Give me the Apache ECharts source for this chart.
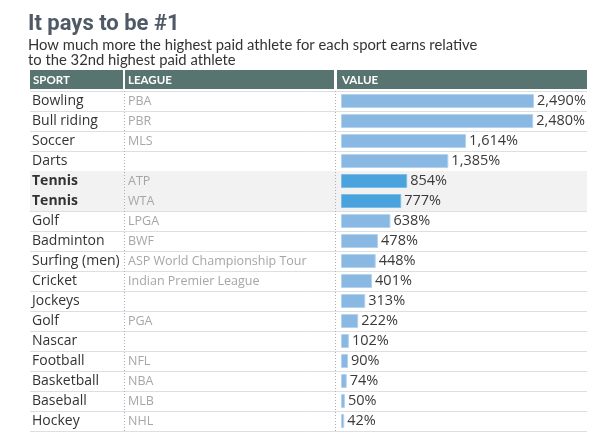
<!DOCTYPE html>
<html><head><meta charset="utf-8">
<script src="https://cdn.jsdelivr.net/npm/echarts@6/dist/echarts.min.js"></script>
<style>html,body{margin:0;padding:0;background:#fff}#c{width:594px;height:433px}</style>
</head><body><div id="c"></div>
<script>
var sports = ['Bowling','Bull riding','Soccer','Darts','Tennis','Tennis','Golf','Badminton','Surfing (men)','Cricket','Jockeys','Golf','Nascar','Football','Basketball','Baseball','Hockey'];
var leagues = ['PBA','PBR','MLS','','ATP','WTA','LPGA','BWF','ASP World Championship Tour','Indian Premier League','','PGA','','NFL','NBA','MLB','NHL'];
var values = [2490,2480,1614,1385,854,777,638,478,448,401,313,222,102,90,74,50,42];
var highlighted = [0,0,0,0,1,1,0,0,0,0,0,0,0,0,0,0,0];
var headers = ['SPORT','LEAGUE','VALUE'];
var titleText = 'It pays to be #1';
var subtitleText = 'How much more the highest paid athlete for each sport earns relative\nto the 32nd highest paid athlete';

var idx = sports.map(function(_, i){ return String(i); });
var chart = echarts.init(document.getElementById('c'), null, {renderer:'canvas'});
var TOP = 91, BOTTOM = 2;
function fmt(v){ return v.toString().replace(/\B(?=(\d{3})+(?!\d))/g, ',') + '%'; }

chart.setOption({
  animation: false,
  title: [
    {text: titleText, left: 28, top: 13, padding: 0,
     textStyle: {fontFamily: 'Roboto', fontWeight: 'bold', fontSize: 22, color: '#4f5a66'}},
    {text: subtitleText, left: 28, top: 38, padding: 0,
     textStyle: {fontFamily: 'Lato', fontWeight: 'normal', fontSize: 14.8, color: '#333', lineHeight: 15}}
  ],
  grid: [
    {left: 30, right: 7, top: TOP, bottom: BOTTOM, outerBoundsMode: 'none'},
    {left: 341, right: 5, top: TOP, bottom: BOTTOM, outerBoundsMode: 'none'}
  ],
  xAxis: [
    {gridIndex: 0, type: 'value', min: 0, max: 1, show: false},
    {gridIndex: 1, type: 'value', min: 0, max: 3200, show: false}
  ],
  yAxis: [
    {gridIndex: 0, type: 'category', position: 'left', data: idx, inverse: true,
     axisLine: {show: false}, axisTick: {show: false},
     splitLine: {show: true, interval: 0, lineStyle: {color: '#dcdfe3', width: 1}},
     axisLabel: {interval: 0, align: 'left', margin: -2,
       formatter: function(v, i){ return highlighted[i] ? '{b|' + sports[i] + '}' : '{n|' + sports[i] + '}'; },
       rich: {
         n: {fontFamily: 'Open Sans', fontSize: 14, color: '#333'},
         b: {fontFamily: 'Open Sans', fontSize: 14, fontWeight: 'bold', color: '#333'}
       }}
    },
    {gridIndex: 0, type: 'category', position: 'left', offset: 0, data: idx, inverse: true,
     axisLine: {show: false}, axisTick: {show: false}, splitLine: {show: false},
     axisLabel: {interval: 0, align: 'left', margin: -98,
       fontFamily: 'Open Sans', fontSize: 12.5, color: '#a6a6a6',
       formatter: function(v, i){ return leagues[i]; }}
    },
    {gridIndex: 1, type: 'category', data: idx, inverse: true, show: false}
  ],
  series: [
    {type: 'bar', xAxisIndex: 0, yAxisIndex: 0, silent: true, barCategoryGap: 0, z: 0,
     data: highlighted, itemStyle: {color: '#f2f2f2'}},
    {type: 'bar', xAxisIndex: 1, yAxisIndex: 2, barCategoryGap: '30%',
     data: values.map(function(v, i){
       return highlighted[i]
         ? {value: v, itemStyle: {color: '#4aa3dc', borderColor: '#7fbde8', borderWidth: 1}}
         : {value: v, itemStyle: {color: '#89b8e2', borderColor: '#b3d3ef', borderWidth: 1}};
     }),
     label: {show: true, position: 'right', distance: 3, fontFamily: 'Open Sans', fontSize: 14.5, color: '#3a3a3a',
       formatter: function(p){ return fmt(p.value); }}
    }
  ],
  graphic: [
    {type: 'rect', shape: {x: 30, y: 70, width: 93, height: 19}, style: {fill: '#587471'}},
    {type: 'rect', shape: {x: 125, y: 70, width: 209, height: 19}, style: {fill: '#587471'}},
    {type: 'rect', shape: {x: 337, y: 70, width: 250, height: 19}, style: {fill: '#587471'}},
    {type: 'text', x: 33, y: 80, style: {text: headers[0], fill: '#fff', font: 'bold 11.5px Lato', verticalAlign: 'middle'}},
    {type: 'text', x: 128, y: 80, style: {text: headers[1], fill: '#fff', font: 'bold 11.5px Lato', verticalAlign: 'middle'}},
    {type: 'text', x: 342, y: 80, style: {text: headers[2], fill: '#fff', font: 'bold 11.5px Lato', verticalAlign: 'middle'}},
    {type: 'line', z: 10, shape: {x1: 124.5, y1: 91, x2: 124.5, y2: 431}, style: {stroke: '#a9afbb', lineWidth: 1, lineDash: [1, 2]}},
    {type: 'line', z: 10, shape: {x1: 335.5, y1: 91, x2: 335.5, y2: 431}, style: {stroke: '#a9afbb', lineWidth: 1, lineDash: [1, 2]}}
  ]
});
</script>
</body></html>
